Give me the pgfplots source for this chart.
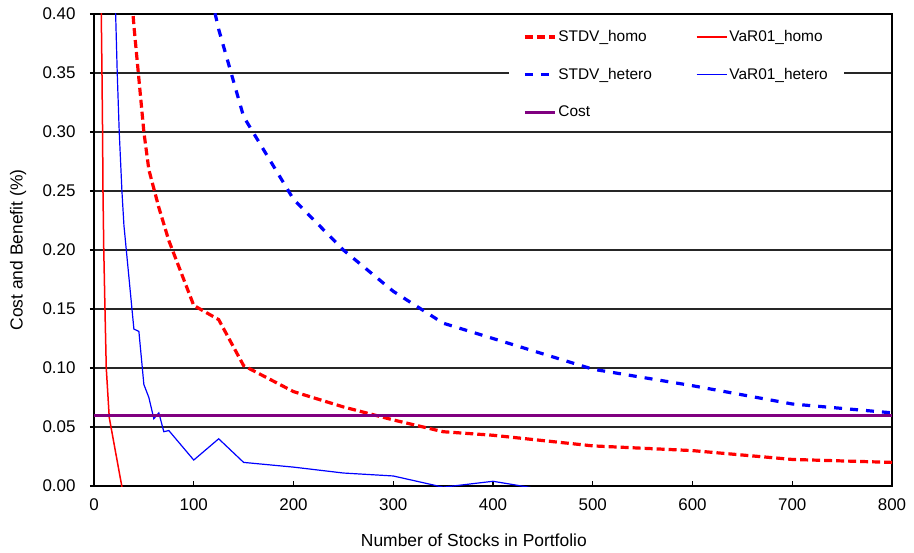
\documentclass[border=0pt]{standalone}
\usepackage{pgfplots}
\pgfplotsset{compat=1.18}
\usepackage{fontspec}
\setmainfont{Liberation Sans}
\definecolor{cpurple}{RGB}{128,0,128}
\definecolor{cred}{RGB}{255,0,0}
\definecolor{cblue}{RGB}{0,0,255}
\begin{document}
\begin{tikzpicture}
\useasboundingbox (-94bp,-67bp) rectangle (820bp,486bp);
\begin{axis}[
  at={(0,0)}, anchor=south west, scale only axis,
  width=798bp, height=472bp,
  xmin=0, xmax=800, ymin=0, ymax=0.40,
  xtick={0,100,200,300,400,500,600,700,800},
  ytick={0,0.05,0.10,0.15,0.20,0.25,0.30,0.35,0.40},
  ymajorgrids,
  major grid style={black!85, line width=1.4bp},
  axis line style={black, line width=1.6bp},
  tick align=inside, xtick pos=left, ytick pos=left,
  major tick length=5bp,
  x tick style={black, line width=1.3bp},
  y tick style={black, line width=1.3bp, xshift=-4bp},
  /pgf/number format/assume math mode=true,
  yticklabel style={xshift=-15bp, /pgf/number format/.cd, fixed, fixed zerofill, precision=2},
  xticklabel style={yshift=-9bp, /pgf/number format/.cd, fixed, precision=0},
  tick label style={font=\fontsize{17}{19}\selectfont},
  label style={font=\fontsize{17.5}{20}\selectfont},
  xlabel={Number of Stocks in Portfolio},
  ylabel={Cost and Benefit (\%)},
  x label style={at={(axis description cs:0.476,-0.114)}, anchor=center},
  y label style={at={(axis description cs:-0.095,0.5)}, anchor=center},
  legend columns=2,
  legend cell align=left,
  legend image code/.code={\draw[#1] (0bp,0bp) -- (30bp,0bp);},
  legend style={at={(axis description cs:0.52,1)}, anchor=north west, yshift=-6bp,
    draw=none, fill=white, font=\fontsize{15.5}{17}\selectfont,
    inner xsep=14bp, inner ysep=8.5bp, row sep=21bp,
    /tikz/every even column/.append style={column sep=42bp}},
]
% STDV_homo
\addplot[cred, line width=3.2bp, dash pattern=on 8bp off 4bp] coordinates {
(30,0.52) (35,0.445) (40,0.39) (45,0.345) (50,0.30) (55,0.268) (60,0.252) (65,0.236)
(70,0.222) (75,0.208) (100,0.153) (125,0.141) (150,0.102) (200,0.080) (250,0.067)
(300,0.056) (350,0.046) (400,0.043) (500,0.034) (600,0.030) (700,0.0225) (800,0.020)};
\addlegendentry{STDV\_homo}
% VaR01_homo
\addplot[cred, line width=1.5bp] coordinates {
(6,0.55) (7.3,0.40) (8,0.35) (8.6,0.30) (9,0.25) (9.8,0.20) (11,0.15) (12.3,0.10)
(15.3,0.058) (30,-0.01)};
\addlegendentry{VaR01\_homo}
% STDV_hetero
\addplot[cblue, line width=3.2bp, dash pattern=on 8bp off 8bp] coordinates {
(100,0.48) (125,0.387) (150,0.313) (200,0.243) (250,0.200) (300,0.165) (350,0.138)
(400,0.125) (500,0.099) (600,0.085) (700,0.0695) (800,0.062)};
\addlegendentry{STDV\_hetero}
% VaR01_hetero
\addplot[cblue, line width=1.2bp] coordinates {
(20,0.47) (21.7,0.40) (23.3,0.35) (25.3,0.30) (28,0.25) (30,0.221) (40,0.133) (45,0.131)
(50,0.086) (55,0.075) (60,0.057) (65,0.062) (70,0.046) (75,0.047) (100,0.022)
(125,0.040) (150,0.020) (200,0.016) (250,0.011) (300,0.0085) (350,-0.001) (400,0.004)
(450,-0.003) (500,-0.004) (600,-0.003) (700,-0.004) (800,-0.002)};
\addlegendentry{VaR01\_hetero}
% Cost
\addplot[cpurple, line width=3bp] coordinates {(0,0.06) (800,0.06)};
\addlegendentry{Cost}
\end{axis}
\end{tikzpicture}
\end{document}
